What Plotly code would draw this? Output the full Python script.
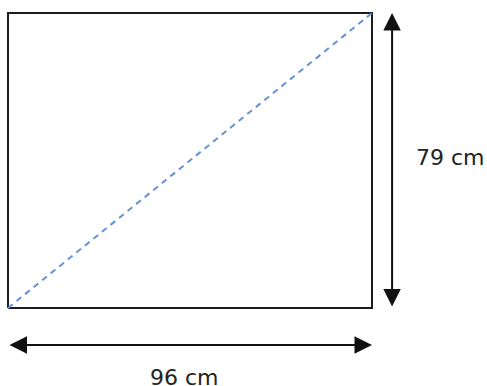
import plotly.graph_objects as go

# rectangle dimensions (cm)
width_cm = 96
height_cm = 79
width_label = "96 cm"
height_label = "79 cm"

rect_x = [0, width_cm, width_cm, 0, 0]
rect_y = [0, 0, height_cm, height_cm, 0]
diag_x = [0, width_cm]
diag_y = [0, height_cm]

fig = go.Figure()

# rectangle outline
fig.add_trace(go.Scatter(x=rect_x, y=rect_y, mode="lines",
                         line=dict(color="#1c1c1c", width=2), hoverinfo="skip"))
# dashed diagonal
fig.add_trace(go.Scatter(x=diag_x, y=diag_y, mode="lines",
                         line=dict(color="#6690d8", width=2, dash="6px,5px"),
                         hoverinfo="skip"))

# dimension arrows (offsets in cm-units outside the rectangle)
v_off = 5.3
h_off = -9.9
arrow_style = dict(xref="x", yref="y", axref="x", ayref="y", text="",
                   showarrow=True, arrowhead=2, startarrowhead=2,
                   arrowside="end+start", arrowwidth=2, arrowsize=1.75,
                   startarrowsize=1.75, arrowcolor="#111111")
fig.add_annotation(x=width_cm + v_off, y=height_cm, ax=width_cm + v_off, ay=0,
                   **arrow_style)
fig.add_annotation(x=width_cm, y=h_off, ax=0, ay=h_off, **arrow_style)

# labels
label_font = dict(family="DejaVu Sans", size=22, color="#222222")
fig.add_annotation(x=width_cm + 20.6, y=height_cm / 2 + 0.9, text=height_label,
                   showarrow=False, xref="x", yref="y", font=label_font)
fig.add_annotation(x=width_cm / 2 - 1.4, y=h_off - 8.8, text=width_label,
                   showarrow=False, xref="x", yref="y", font=label_font)

fig.update_xaxes(range=[-2.11, 126.33], visible=False, fixedrange=True)
fig.update_yaxes(range=[-20.89, 82.48], visible=False, fixedrange=True)
fig.update_layout(width=487, height=386, margin=dict(l=0, r=0, t=0, b=0),
                  showlegend=False, plot_bgcolor="white", paper_bgcolor="white")

# drop the default page margin so the figure fills the window exactly
fig.write_html("out.html", config={"displayModeBar": False},
               post_script="document.body.style.margin='0';"
                           "document.body.style.overflow='hidden';")
